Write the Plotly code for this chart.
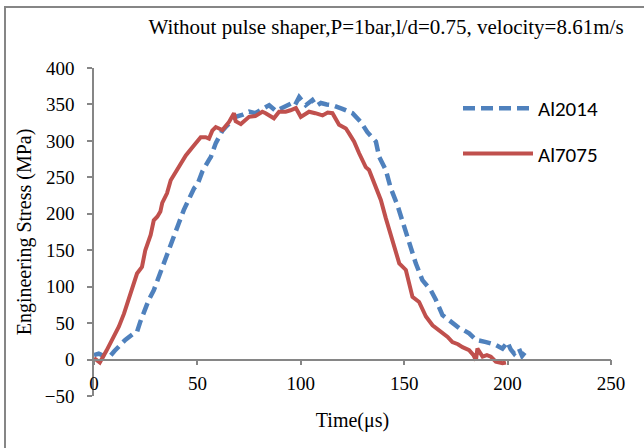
import plotly.graph_objects as go

# ---- data ----
time_al2014 = [0, 2.3, 5.5, 7.9, 10, 12.7, 15.1, 19.2, 20.8, 22.4, 24.8, 26.5, 28.9, 31.3, 33.7, 36.1,
               38.6, 41, 43.4, 46.6, 48.4, 50, 52.4, 55.6, 56.5, 58.9, 60.5, 62.1, 63.7, 66, 68.5, 72,
               75, 78, 80.6, 82.5, 84.7, 88, 91.1, 95.2, 97, 99.2, 102.4, 105.6, 107.5, 109.7, 112.5,
               115.3, 120.1, 125, 129, 132.2, 136.3, 137.9, 141.1, 143.5, 146.7, 149.2, 152.4, 155.6,
               158.8, 162.9, 165.3, 168.5, 171.7, 174, 176.6, 179, 181.4, 184.7, 187, 189.6, 192,
               194.3, 197.5, 199.9, 201.5, 203.2, 205.5, 207, 209]
stress_al2014 = [6, 8, 4, 5, 12, 20, 27, 36, 38, 52, 72, 82, 95, 114, 132, 150,
                 168, 187, 205, 223, 235, 240, 258, 274, 278, 297, 306, 314, 319, 325, 333, 336,
                 340, 338, 342, 345, 349, 341, 345, 351, 348, 360, 349, 356, 348, 352, 350,
                 349, 344, 338, 326, 312, 299, 278, 260, 235, 212, 190, 159, 132,
                 109, 95, 82, 61, 54, 48, 43, 40, 36, 27, 26, 24, 22,
                 20, 15, 24, 14, 8, 15, 5, 12]

time_al7075 = [0, 2.8, 6, 9.5, 12, 14.5, 17.6, 20.8, 23.2, 24.8, 27.4, 28.9, 30.6, 32.1, 33, 35.3,
               37.1, 41.1, 44.4, 48.4, 51.6, 54, 55.6, 57.2, 58.9, 62.1, 65.3, 67.7, 68.5, 71, 75,
               78, 81.4, 83, 87, 89.5, 92.7, 95, 97.6, 100, 104, 107, 110.5, 113, 115.3, 118.5,
               121.8, 123.4, 125.8, 128.2, 131.4, 133, 135.5, 138.7, 141.1, 144.3, 147.6, 150.8,
               154, 157.2, 160.5, 163.7, 166, 168.5, 171, 173.3, 176, 178.2, 181.4, 183.5, 184.7,
               185.4, 187.9, 190, 191.9, 194.3, 197.5, 199.2]
stress_al7075 = [2, -4, 12, 31, 45, 63, 91, 118, 127, 150, 171, 191, 196, 203, 215, 228,
                 246, 264, 280, 294, 305, 305, 303, 314, 319, 315, 326, 338, 327, 323, 333,
                 334, 340, 338, 331, 340, 340, 342, 345, 333, 340, 338, 335, 339, 338, 322,
                 317, 310, 299, 283, 264, 260, 242, 219, 194, 164, 132, 123,
                 86, 79, 59, 47, 42, 36, 31, 24, 21, 17, 13, 6, -1,
                 15, 4, 6, 4, -3, -5, -4]

x_ticks = [0, 50, 100, 150, 200, 250]
y_ticks = [-50, 0, 50, 100, 150, 200, 250, 300, 350, 400]

title_text = "Without pulse shaper,P=1bar,l/d=0.75, velocity=8.61m/s"
x_title = "Time(μs)"
y_title = "Engineering Stress (MPa)"

AXIS_GRAY = "#868686"
SERIF = "Liberation Serif, Times New Roman, serif"
SANS = "Calibri, Carlito, Lato, sans-serif"

fig = go.Figure()
fig.add_trace(go.Scatter(
    x=time_al2014, y=stress_al2014, mode="lines", name="Al2014",
    legendgroup="a",
    line=dict(color="#4F81BD", width=4.5, dash="12px,6px"),
))
fig.add_trace(go.Scatter(
    x=time_al7075, y=stress_al7075, mode="lines", name="Al7075",
    legendgroup="b",
    line=dict(color="#C0504D", width=4),
))

W, H = 644, 448
L, R, T, B = 94, 33, 68, 52
pw, ph = W - L - R, H - T - B

def px_x(p):
    return (p - L) / pw

def px_y(p):
    return (H - B - p) / ph

fig.update_layout(
    width=W, height=H,
    margin=dict(l=L, r=R, t=T, b=B, pad=0, autoexpand=False),
    paper_bgcolor="white", plot_bgcolor="white",
    font=dict(family=SERIF, size=19, color="black"),
    title=dict(text=title_text, x=386 / W, xanchor="center",
               y=1 - 27 / H, yanchor="middle",
               font=dict(family=SERIF, size=21, color="black")),
    xaxis=dict(
        range=[0, 250], tickvals=x_ticks, showgrid=False, zeroline=False,
        showline=True, linecolor=AXIS_GRAY, linewidth=1.5,
        ticks="outside", ticklen=5, tickcolor=AXIS_GRAY, tickwidth=1.5,
        anchor="free", position=50 / 450, automargin=False,
        ticklabelstandoff=2,
        title=dict(text=x_title, standoff=19, font=dict(size=20)),
    ),
    yaxis=dict(
        range=[-50, 400], tickvals=y_ticks, showgrid=False, zeroline=False,
        showline=True, linecolor=AXIS_GRAY, linewidth=1.5,
        ticks="outside", ticklen=5, tickcolor=AXIS_GRAY, tickwidth=1.5,
        ticklabelstandoff=9, automargin=False,
        title=dict(text=y_title, standoff=8, font=dict(size=20)),
    ),
    legend=dict(
        x=px_x(458), y=px_y(88), xanchor="left", yanchor="top",
        font=dict(family=SANS, size=21, color="black"),
        traceorder="grouped", tracegroupgap=15,
        itemwidth=70, bgcolor="rgba(0,0,0,0)",
    ),
    showlegend=True,
)

# chart frame (Excel chart-area border)
fig.add_shape(type="rect", xref="paper", yref="paper",
              x0=px_x(5), x1=px_x(700), y0=px_y(500), y1=px_y(7),
              line=dict(color=AXIS_GRAY, width=2), fillcolor="rgba(0,0,0,0)", layer="below")

fig.write_html("out.html", config={"displayModeBar": False},
               post_script="document.body.style.margin='0px';")
